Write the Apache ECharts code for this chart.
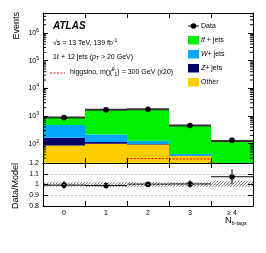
<!DOCTYPE html>
<html><head><meta charset="utf-8">
<script src="https://cdn.jsdelivr.net/npm/echarts@6/dist/echarts.min.js"></script>
<style>html,body{margin:0;padding:0;background:#fff}#c{width:266px;height:253px}</style>
</head><body><div id="c"></div>
<script>
// ---- data ----
const categories = ['0', '1', '2', '3', '≥ 4'];
const other  = [86, 100, 93, 36, 8];
const zjets  = [77, 14, 4, 1, 1];
const wjets  = [308, 102, 30, 5, 3];
const ttbar  = [409, 1464, 1613, 408, 113];
const data   = [875, 1663, 1745, 452, 134];
const signal = [2, 9, 29, 28, 12];
const ratioErr = [0.035, 0.02, 0.02, 0.035, 0.07];
const bandUp   = [0.02, 0.02, 0.02, 0.02, 0.035];
const bandDown = [0.02, 0.02, 0.02, 0.02, 0.02];
const logMin = 20, logMax = 5.3e6;
const ratioMin = 0.8, ratioMax = 1.2, ratioStep = 0.1;

const FONT = 'Liberation Sans, Arial, Helvetica, sans-serif';
const C_TT = '#00f000', C_W = '#00a8ff', C_Z = '#000066', C_O = '#ffcc00';
const C_SIG = 'rgb(255,0,0)';

// cumulative stack
const s1 = other.map(v => v);
const s2 = s1.map((v, i) => v + zjets[i]);
const s3 = s2.map((v, i) => v + wjets[i]);
const s4 = s3.map((v, i) => v + ttbar[i]);
const total = s4;
const ratio = data.map((d, i) => d / total[i]);

function stackSeries(lo, hi, color) {
  return {
    type: 'custom', xAxisIndex: 0, yAxisIndex: 0, z: 2,
    data: categories.map((c, i) => [i, lo[i], hi[i]]),
    renderItem(params, api) {
      const i = api.value(0);
      const a = Math.max(api.value(1), logMin), b = Math.min(api.value(2), logMax);
      if (b <= a) return;
      const p1 = api.coord([i, b]), p0 = api.coord([i, a]);
      const w = api.size([1, 100])[0];
      return { type: 'rect', shape: { x: p1[0] - w / 2, y: p1[1], width: w, height: p0[1] - p1[1] }, style: { fill: color } };
    }
  };
}
const zeros = categories.map(() => 0);

// hatch pattern
const pc = document.createElement('canvas');
pc.width = 3; pc.height = 3;
const pctx = pc.getContext('2d');
pctx.strokeStyle = '#707070'; pctx.lineWidth = 0.9;
pctx.beginPath();
pctx.moveTo(0, 3); pctx.lineTo(3, 0);
pctx.moveTo(-1, 1); pctx.lineTo(1, -1);
pctx.moveTo(2, 4); pctx.lineTo(4, 2);
pctx.stroke();

const minorVals = [];
for (let d = 1; d <= 6; d++) for (let k = 2; k <= 9; k++) {
  const v = k * Math.pow(10, d);
  if (v > logMin && v < logMax) minorVals.push(v);
}

const axisCommon = {
  axisLine: { show: true, onZero: false, lineStyle: { color: '#000', width: 1 } },
  axisTick: { show: true, inside: true, length: 5, lineStyle: { color: '#000', width: 1 } },
  splitLine: { show: false }, z: 10
};

const option = {
  animation: false,
  textStyle: { fontFamily: FONT },
  grid: [
    { left: 43, top: 13, width: 210, height: 150 },
    { left: 43, top: 163, width: 210, height: 43 }
  ],
  xAxis: [
    Object.assign({ gridIndex: 0, type: 'category', data: categories, position: 'bottom', boundaryGap: true, axisLabel: { show: false } }, axisCommon),
    Object.assign({ gridIndex: 0, type: 'category', data: categories, position: 'top', boundaryGap: true, axisLabel: { show: false } }, axisCommon),
    Object.assign({ gridIndex: 1, type: 'category', data: categories, position: 'bottom', boundaryGap: true,
      axisLabel: { show: true, fontSize: 7, color: '#000', margin: 4, fontFamily: FONT } }, axisCommon),
    Object.assign({ gridIndex: 1, type: 'category', data: categories, position: 'top', boundaryGap: true, axisLabel: { show: false } }, axisCommon)
  ],
  yAxis: [
    Object.assign({ gridIndex: 0, type: 'log', logBase: 10, min: logMin, max: logMax, position: 'left',
      axisLabel: { show: true, margin: 4, color: '#000', fontSize: 7, fontFamily: FONT,
        formatter: v => { const e = Math.log10(v); if (Math.abs(e - Math.round(e)) > 1e-6) return ''; return '10{sup|' + Math.round(e) + '}'; },
        rich: { sup: { fontSize: 5, padding: [0, 0, 5, 0], fontFamily: FONT, color: '#000' } } } }, axisCommon),
    Object.assign({ gridIndex: 0, type: 'log', logBase: 10, min: logMin, max: logMax, position: 'right', axisLabel: { show: false } }, axisCommon),
    Object.assign({ gridIndex: 1, type: 'value', min: ratioMin, max: ratioMax, interval: ratioStep, position: 'left',
      axisLabel: { show: true, margin: 4, color: '#000', fontSize: 7, fontFamily: FONT, formatter: v => String(+v.toFixed(1)) } }, axisCommon,
      { splitLine: { show: true, lineStyle: { color: '#aaa', width: 0.7, type: [2, 2] } } }),
    Object.assign({ gridIndex: 1, type: 'value', min: ratioMin, max: ratioMax, interval: ratioStep, position: 'right', axisLabel: { show: false } }, axisCommon)
  ],
  series: [
    stackSeries(zeros, s1, C_O),
    stackSeries(s1, s2, C_Z),
    stackSeries(s2, s3, C_W),
    stackSeries(s3, s4, C_TT),
    // total line
    {
      type: 'custom', xAxisIndex: 0, yAxisIndex: 0, z: 3,
      data: categories.map((c, i) => [i, total[i]]),
      renderItem(params, api) {
        const i = api.value(0), p = api.coord([i, api.value(1)]), w = api.size([1, 100])[0];
        return { type: 'line', shape: { x1: p[0] - w / 2, y1: p[1], x2: p[0] + w / 2, y2: p[1] }, style: { stroke: '#333', lineWidth: 2 } };
      }
    },
    // signal step
    {
      type: 'custom', xAxisIndex: 0, yAxisIndex: 0, z: 4,
      data: categories.map((c, i) => [i, signal[i], i > 0 ? signal[i - 1] : 0]),
      renderItem(params, api) {
        const i = api.value(0), w = api.size([1, 100])[0];
        const v = Math.max(api.value(1), logMin), vp = Math.max(api.value(2), logMin);
        const p = api.coord([i, v]), pp = api.coord([i, vp]);
        const st = { stroke: C_SIG, lineWidth: 1, lineDash: [2, 1.5], fill: null };
        const ch = [];
        if (api.value(1) > logMin) ch.push({ type: 'line', shape: { x1: p[0] - w / 2, y1: p[1], x2: p[0] + w / 2, y2: p[1] }, style: st });
        if (Math.abs(p[1] - pp[1]) > 0.5) ch.push({ type: 'line', shape: { x1: p[0] - w / 2, y1: p[1], x2: p[0] - w / 2, y2: pp[1] }, style: st });
        if (i === categories.length - 1 && api.value(1) > logMin) {
          const b = api.coord([i, logMin]);
          ch.push({ type: 'line', shape: { x1: p[0] + w / 2, y1: p[1], x2: p[0] + w / 2, y2: b[1] }, style: st });
        }
        return { type: 'group', children: ch };
      }
    },
    // minor ticks main
    {
      type: 'custom', xAxisIndex: 0, yAxisIndex: 0, z: 11,
      data: minorVals.map(v => [0, v]),
      renderItem(params, api) {
        const cs = params.coordSys, y = api.coord([0, api.value(1)])[1];
        const st = { stroke: '#000', lineWidth: 1 };
        return { type: 'group', children: [
          { type: 'line', shape: { x1: cs.x, y1: y, x2: cs.x + 3, y2: y }, style: st },
          { type: 'line', shape: { x1: cs.x + cs.width - 3, y1: y, x2: cs.x + cs.width, y2: y }, style: st }
        ] };
      }
    },
    // data points main
    {
      type: 'custom', xAxisIndex: 0, yAxisIndex: 0, z: 6,
      data: categories.map((c, i) => [i, data[i]]),
      renderItem(params, api) {
        const p = api.coord([api.value(0), api.value(1)]);
        return { type: 'circle', shape: { cx: p[0], cy: p[1], r: 2.8 }, style: { fill: '#000' } };
      }
    },
    // ratio band
    {
      type: 'custom', xAxisIndex: 2, yAxisIndex: 2, z: 3,
      data: categories.map((c, i) => [i, 1 - bandDown[i], 1 + bandUp[i]]),
      renderItem(params, api) {
        const i = api.value(0), w = api.size([1, 1])[0];
        const a = api.coord([i, api.value(1)]), b = api.coord([i, api.value(2)]);
        return { type: 'rect', shape: { x: a[0] - w / 2, y: b[1], width: w, height: a[1] - b[1] },
          style: { fill: { image: pc, repeat: 'repeat' } } };
      }
    },
    // ratio points
    {
      type: 'custom', xAxisIndex: 2, yAxisIndex: 2, z: 6,
      data: categories.map((c, i) => [i, ratio[i], ratioErr[i]]),
      renderItem(params, api) {
        const i = api.value(0), r = api.value(1), e = api.value(2), w = api.size([1, 1])[0];
        const p = api.coord([i, r]), hi = api.coord([i, r + e]), lo = api.coord([i, r - e]);
        const st = { stroke: '#000', lineWidth: 1 };
        return { type: 'group', children: [
          { type: 'line', shape: { x1: p[0] - w / 2, y1: p[1], x2: p[0] + w / 2, y2: p[1] }, style: st },
          { type: 'line', shape: { x1: p[0], y1: hi[1], x2: p[0], y2: lo[1] }, style: st },
          { type: 'circle', shape: { cx: p[0], cy: p[1], r: 2.8 }, style: { fill: '#000' } }
        ] };
      }
    }
  ],
  graphic: [
    { type: 'text', x: 53, y: 26, style: { text: 'ATLAS', fontFamily: FONT, fontSize: 10, fontWeight: 'bold', fontStyle: 'italic', fill: '#000', verticalAlign: 'middle' } },
    { type: 'text', x: 53, y: 43, style: { text: '√s = 13 TeV, 139 fb{sup|-1}', fontFamily: FONT, fontSize: 7, fill: '#000', verticalAlign: 'middle',
      rich: { sup: { fontSize: 5, padding: [0, 0, 5, 0], fontFamily: FONT, fill: '#000' } } } },
    { type: 'text', x: 53, y: 57, style: { text: '1ℓ + 12 jets ({i|p}{sub|T} > 20 GeV)', fontFamily: FONT, fontSize: 7, fill: '#000', verticalAlign: 'middle',
      rich: { i: { fontStyle: 'italic', fontSize: 7, fontFamily: FONT }, sub: { fontSize: 5, padding: [4, 0, 0, 0], fontFamily: FONT, fontStyle: 'italic' } } } },
    { type: 'polyline', z: 20, shape: { points: [[50, 73], [65, 73]] }, style: { stroke: C_SIG, fill: null, lineWidth: 1, lineDash: [2, 1.5] } },
    { type: 'text', x: 70, y: 72.5, style: { text: 'higgsino, m(χ̃{sup|0}{sub|1}) = 300 GeV (x20)', fontFamily: FONT, fontSize: 7, fill: '#000', verticalAlign: 'middle',
      rich: { sup: { fontSize: 5, padding: [0, 0, 5, 0], fontFamily: FONT }, sub: { fontSize: 5, padding: [4, 0, 0, 0], fontFamily: FONT } } } },
    // legend
    { type: 'line', shape: { x1: 188, y1: 26, x2: 199, y2: 26 }, style: { stroke: '#000', lineWidth: 1 } },
    { type: 'circle', shape: { cx: 193.5, cy: 26, r: 2.8 }, style: { fill: '#000' } },
    { type: 'text', x: 201, y: 26, style: { text: 'Data', fontFamily: FONT, fontSize: 7, fill: '#000', verticalAlign: 'middle' } },
    { type: 'rect', shape: { x: 188, y: 36, width: 11, height: 8.5 }, style: { fill: C_TT } },
    { type: 'text', x: 201, y: 40.5, style: { text: '{i|tt̄} + jets', fontFamily: FONT, fontSize: 7, fill: '#000', verticalAlign: 'middle',
      rich: { i: { fontStyle: 'italic', fontSize: 7, fontFamily: FONT } } } },
    { type: 'rect', shape: { x: 188, y: 50, width: 11, height: 8.5 }, style: { fill: C_W } },
    { type: 'text', x: 201, y: 54.5, style: { text: '{i|W}+ jets', fontFamily: FONT, fontSize: 7, fill: '#000', verticalAlign: 'middle',
      rich: { i: { fontStyle: 'italic', fontSize: 7, fontFamily: FONT } } } },
    { type: 'rect', shape: { x: 188, y: 64, width: 11, height: 8.5 }, style: { fill: C_Z } },
    { type: 'text', x: 201, y: 68.5, style: { text: '{i|Z}+ jets', fontFamily: FONT, fontSize: 7, fill: '#000', verticalAlign: 'middle',
      rich: { i: { fontStyle: 'italic', fontSize: 7, fontFamily: FONT } } } },
    { type: 'rect', shape: { x: 188, y: 78, width: 11, height: 8.5 }, style: { fill: C_O } },
    { type: 'text', x: 201, y: 82.5, style: { text: 'Other', fontFamily: FONT, fontSize: 7, fill: '#000', verticalAlign: 'middle' } },
    // axis titles
    { type: 'text', x: 17, y: 12, rotation: Math.PI / 2, style: { text: 'Events', fontFamily: FONT, fontSize: 9, fill: '#000', align: 'right', verticalAlign: 'middle' } },
    { type: 'text', x: 16, y: 186, rotation: Math.PI / 2, style: { text: 'Data/Model', fontFamily: FONT, fontSize: 9, fill: '#000', align: 'center', verticalAlign: 'middle' } },
    { type: 'text', x: 225, y: 221, style: { text: 'N{sub|b-tags}', fontFamily: FONT, fontSize: 9, fill: '#000', verticalAlign: 'middle',
      rich: { sub: { fontSize: 5.5, padding: [5, 0, 0, 0], fontFamily: FONT } } } }
  ]
};
const chart = echarts.init(document.getElementById('c'), null, { renderer: 'canvas' });
chart.setOption(option);
</script>
</body></html>
